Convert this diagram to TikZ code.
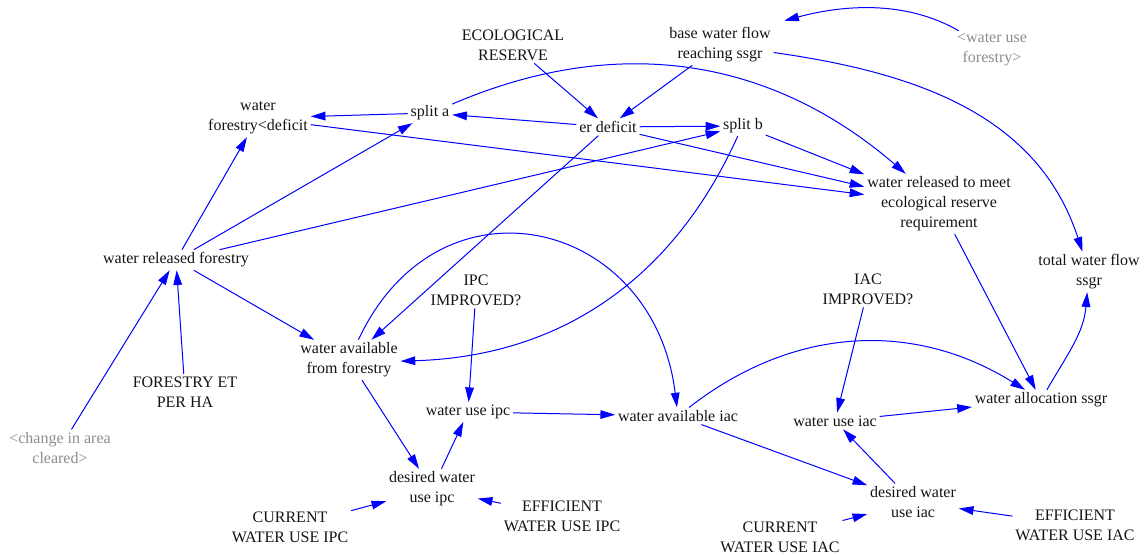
\documentclass[tikz,border=0pt]{standalone}
\usepackage{fontspec}
\setmainfont{Liberation Serif}
\usetikzlibrary{arrows.meta}
\definecolor{linkblue}{RGB}{0,0,255}
\definecolor{shadowvar}{RGB}{140,140,140}
\definecolor{ink}{RGB}{20,20,20}
\begin{document}
\begin{tikzpicture}[x=0.75pt,y=-0.75pt,
  var/.style={align=center,font=\fontsize{12}{15}\selectfont,text=ink,inner xsep=2pt,inner ysep=2pt},
  ghost/.style={var,text=shadowvar},
  link/.style={draw=linkblue,line width=0.75pt,-{Triangle[length=11pt,width=6.5pt]}}]
\useasboundingbox (0,0) rectangle (1148,555);

% variables
\node[var] (wfd) at (258,118) {water\\forestry<deficit};
\node[var] (spa) at (430,113) {split a};
\node[var] (eco) at (513,45) {ECOLOGICAL\\RESERVE};
\node[var] (bwf) at (720,45) {base water flow\\reaching ssgr};
\node[ghost] (wuf) at (992,50) {<water use\\forestry>};
\node[var] (erd) at (608,127) {er deficit};
\node[var] (spb) at (743,126) {split b};
\node[var] (wrm) at (939,204) {water released to meet\\ecological reserve\\requirement};
\node[var] (twf) at (1089,272) {total water flow\\ssgr};
\node[var] (wrf) at (176,260) {water released forestry};
\node[var] (ipci) at (476,290) {IPC\\IMPROVED?};
\node[var] (iaci) at (868,289) {IAC\\IMPROVED?};
\node[var] (waf) at (349,360) {water available\\from forestry};
\node[var] (fet) at (185,392) {FORESTRY ET\\PER HA};
\node[ghost] (cac) at (60,448) {<change in area\\cleared>};
\node[var] (wuipc) at (468,412) {water use ipc};
\node[var] (waiac) at (678,416) {water available iac};
\node[var] (wuiac) at (835,421) {water use iac};
\node[var] (was) at (1041,400) {water allocation ssgr};
\node[var] (dwipc) at (432,489) {desired water\\use ipc};
\node[var] (cwipc) at (290,527) {CURRENT\\WATER USE IPC};
\node[var] (ewipc) at (562,516) {EFFICIENT\\WATER USE IPC};
\node[var] (dwiac) at (913,502) {desired water\\use iac};
\node[var] (cwiac) at (780,537) {CURRENT\\WATER USE IAC};
\node[var] (ewiac) at (1075,525) {EFFICIENT\\WATER USE IAC};

% causal links
\draw[link] (spa) -- (wfd);
\draw[link] (erd) -- (spa);
\draw[link] (wfd) -- (wrm);
\draw[link] (wrf) -- (spb);
\draw[link] (wrf) -- (spa);
\draw[link] (wrf) -- (wfd);
\draw[link] (erd) -- (spb);
\draw[link] (erd) -- (wrm);
\draw[link] (spb) -- (wrm);
\draw[link] (spa) to[bend left=32] (wrm);
\draw[link] (eco) -- (erd);
\draw[link] (bwf) -- (erd);
\draw[link] (wuf) to[out=150,in=15,looseness=0.9] ([xshift=8pt,yshift=3pt]bwf.north east);
\draw[link] (bwf) to[out=-8,in=108] (twf);
\draw[link] (wrm) -- (was);
\draw[link] (was) to[out=60,in=-95] (twf);
\draw[link] (erd) -- (waf);
\draw[link] (spb) to[bend left=32] (waf);
\draw[link] (wrf) -- (waf);
\draw[link] (fet) -- (wrf);
\draw[link] (cac) -- (wrf);
\draw[link] (waf) to[out=65,in=97,looseness=1.5] (waiac);
\draw[link] (ipci) -- (wuipc);
\draw[link] (waf) -- (dwipc);
\draw[link] (dwipc) -- (wuipc);
\draw[link] (cwipc) -- (dwipc);
\draw[link] (ewipc) -- (dwipc);
\draw[link] (wuipc) -- (waiac);
\draw[link] (waiac) to[bend left=35] (was);
\draw[link] (waiac) -- (dwiac);
\draw[link] (iaci) -- (wuiac);
\draw[link] (wuiac) -- (was);
\draw[link] (dwiac) -- (wuiac);
\draw[link] (cwiac) -- (dwiac);
\draw[link] (ewiac) -- (dwiac);
\end{tikzpicture}
\end{document}
